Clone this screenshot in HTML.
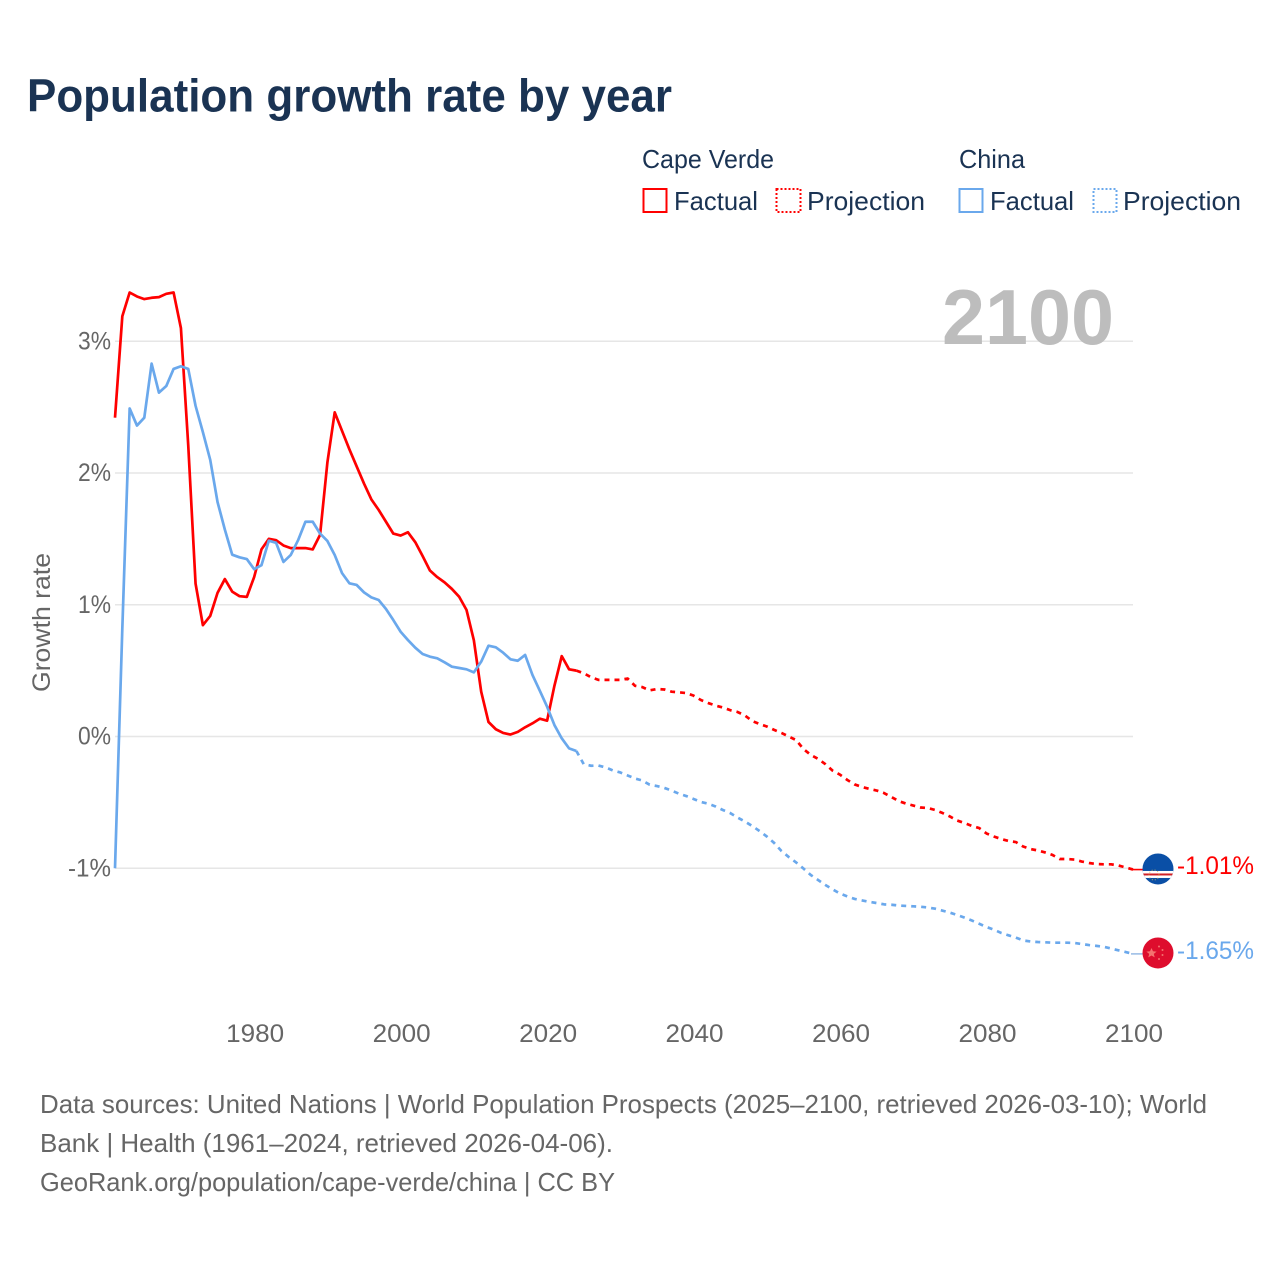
<!DOCTYPE html>
<html lang="en">
<head>
<meta charset="utf-8">
<title>Population growth rate by year</title>
<style>
html,body{margin:0;padding:0;background:#fff;width:1280px;height:1280px;overflow:hidden}
svg{display:block}
text{font-family:"Liberation Sans",sans-serif}
</style>
</head>
<body>
<svg id="chart" xmlns="http://www.w3.org/2000/svg" width="1280" height="1280" viewBox="0 0 1280 1280">
  <rect width="1280" height="1280" fill="#fff"/>
  <text x="27" y="111.5" font-size="46" font-weight="700" fill="#1a3353" textLength="645" lengthAdjust="spacingAndGlyphs">Population growth rate by year</text>

  <g>
    <text x="642" y="168" font-size="26" fill="#1a3353" textLength="132" lengthAdjust="spacingAndGlyphs">Cape Verde</text>
    <text x="959" y="168" font-size="26" fill="#1a3353" textLength="66" lengthAdjust="spacingAndGlyphs">China</text>
    <rect x="643.5" y="189" width="23" height="23" fill="none" stroke="#ff0000" stroke-width="2"/>
    <text x="674" y="210" font-size="26" fill="#1a3353" textLength="84" lengthAdjust="spacingAndGlyphs">Factual</text>
    <rect x="776.5" y="189" width="24" height="23" fill="none" stroke="#ff0000" stroke-width="2" stroke-dasharray="2 2"/>
    <text x="807" y="210" font-size="26" fill="#1a3353" textLength="118" lengthAdjust="spacingAndGlyphs">Projection</text>
    <rect x="959.5" y="189" width="23" height="23" fill="none" stroke="#6aa8ec" stroke-width="2"/>
    <text x="990" y="210" font-size="26" fill="#1a3353" textLength="84" lengthAdjust="spacingAndGlyphs">Factual</text>
    <rect x="1093.5" y="189" width="23" height="23" fill="none" stroke="#6aa8ec" stroke-width="2" stroke-dasharray="2 2"/>
    <text x="1123" y="210" font-size="26" fill="#1a3353" textLength="118" lengthAdjust="spacingAndGlyphs">Projection</text>
  </g>

  <g id="grid"></g>
  <g id="yticks"></g>
  <g id="xticks"></g>

  <text x="942" y="344" font-size="78" font-weight="700" fill="#bdbdbd" textLength="172" lengthAdjust="spacingAndGlyphs">2100</text>
  <text transform="translate(50,692) rotate(-90)" x="0" y="0" font-size="25" fill="#666" textLength="139" lengthAdjust="spacingAndGlyphs">Growth rate</text>

  <g id="series"></g>

  <defs>
    <clipPath id="flag-clip-cv"><circle id="cv-clip-circle" cx="1158" cy="869" r="15.5"/></clipPath>
    <clipPath id="flag-clip-cn"><circle id="cn-clip-circle" cx="1158" cy="953" r="15.5"/></clipPath>
  </defs>
  <g id="flag-cv" clip-path="url(#flag-clip-cv)">
    <rect x="1142" y="853" width="32" height="32" fill="#0a4fa6"/>
    <rect x="1142" y="871" width="32" height="7" fill="#fff"/>
    <rect x="1142" y="873.5" width="32" height="2" fill="#cf2027"/>
    <circle cx="1154" cy="875" r="5" fill="none" stroke="#d8b64a" stroke-width="1" stroke-dasharray="1 2" opacity=".8"/>
  </g>
  <g id="flag-cn" clip-path="url(#flag-clip-cn)">
    <rect x="1142" y="937" width="32" height="32" fill="#de0d2d"/>
    <polygon points="1151.5,948 1153,951.3 1156.6,951.6 1153.8,953.9 1154.7,957.4 1151.5,955.5 1148.3,957.4 1149.2,953.9 1146.4,951.6 1150,951.3" fill="#f4736f"/>
    <circle cx="1159" cy="946.5" r="1" fill="#f4736f"/>
    <circle cx="1162.5" cy="950" r="1" fill="#f4736f"/>
    <circle cx="1162.5" cy="955" r="1" fill="#f4736f"/>
    <circle cx="1159" cy="959" r="1" fill="#f4736f"/>
  </g>
  <text id="label-cv" x="1177" y="874" font-size="25" fill="#ff0000" textLength="77" lengthAdjust="spacingAndGlyphs"></text>
  <text id="label-cn" x="1177" y="959" font-size="25" fill="#6aa8ec" textLength="77" lengthAdjust="spacingAndGlyphs"></text>

  <g font-size="26" fill="#666">
    <text x="40" y="1113" textLength="1167" lengthAdjust="spacingAndGlyphs">Data sources: United Nations | World Population Prospects (2025–2100, retrieved 2026-03-10); World</text>
    <text x="40" y="1152" textLength="573" lengthAdjust="spacingAndGlyphs">Bank | Health (1961–2024, retrieved 2026-04-06).</text>
    <text x="40" y="1191" textLength="575" lengthAdjust="spacingAndGlyphs">GeoRank.org/population/cape-verde/china | CC BY</text>
  </g>
</svg>

<script>
const factualStartYear = 1961;
const projectionStartYear = 2025;
const yTickValues = [3, 2, 1, 0, -1];
const xTickValues = [1980, 2000, 2020, 2040, 2060, 2080, 2100];
const capeVerdeFactual = [2.42,3.19,3.37,3.34,3.32,3.33,3.335,3.36,3.37,3.10,2.21,1.16,0.845,0.915,1.09,1.195,1.10,1.065,1.06,1.21,1.42,1.50,1.49,1.45,1.43,1.43,1.43,1.42,1.53,2.08,2.46,2.32,2.18,2.05,1.92,1.80,1.72,1.63,1.54,1.525,1.55,1.475,1.37,1.26,1.21,1.17,1.12,1.06,0.96,0.73,0.34,0.11,0.055,0.027,0.015,0.035,0.07,0.10,0.135,0.12,0.385,0.61,0.51,0.50];
const capeVerdeProjection = [0.48,0.45,0.43,0.43,0.43,0.43,0.44,0.385,0.375,0.35,0.36,0.357,0.34,0.335,0.33,0.31,0.277,0.254,0.235,0.22,0.2,0.186,0.16,0.118,0.095,0.076,0.05,0.027,0,-0.027,-0.095,-0.14,-0.17,-0.21,-0.26,-0.29,-0.33,-0.364,-0.383,-0.398,-0.41,-0.429,-0.459,-0.49,-0.509,-0.524,-0.539,-0.543,-0.558,-0.581,-0.607,-0.638,-0.657,-0.679,-0.695,-0.736,-0.759,-0.778,-0.793,-0.801,-0.835,-0.854,-0.865,-0.88,-0.899,-0.93,-0.93,-0.934,-0.949,-0.96,-0.968,-0.97,-0.97,-0.979,-0.994,-1.01];
const chinaFactual = [-1.0,0.82,2.49,2.36,2.42,2.83,2.61,2.66,2.79,2.81,2.79,2.51,2.31,2.10,1.78,1.57,1.38,1.36,1.347,1.27,1.30,1.486,1.47,1.325,1.378,1.49,1.63,1.63,1.54,1.484,1.378,1.24,1.163,1.15,1.094,1.056,1.036,0.968,0.884,0.795,0.732,0.674,0.626,0.606,0.593,0.563,0.53,0.52,0.51,0.487,0.568,0.689,0.677,0.636,0.586,0.575,0.619,0.467,0.348,0.226,0.087,-0.014,-0.09,-0.11];
const chinaProjection = [-0.21,-0.222,-0.22,-0.235,-0.258,-0.273,-0.296,-0.319,-0.334,-0.366,-0.376,-0.39,-0.41,-0.434,-0.452,-0.474,-0.497,-0.51,-0.531,-0.558,-0.581,-0.615,-0.645,-0.679,-0.717,-0.759,-0.808,-0.869,-0.915,-0.956,-1.002,-1.051,-1.089,-1.127,-1.161,-1.192,-1.214,-1.233,-1.244,-1.255,-1.264,-1.274,-1.277,-1.283,-1.286,-1.289,-1.292,-1.298,-1.307,-1.322,-1.337,-1.355,-1.375,-1.397,-1.421,-1.446,-1.466,-1.491,-1.509,-1.526,-1.548,-1.556,-1.56,-1.562,-1.565,-1.565,-1.565,-1.567,-1.575,-1.583,-1.589,-1.596,-1.609,-1.623,-1.636,-1.65];

const NS = 'http://www.w3.org/2000/svg';
const RED = '#ff0000';
const BLUE = '#6aa8ec';
function xScale(year) { return 115 + (year - 1961) * (1133 - 115) / 139; }
function yScale(value) { return 736.5 - value * 131.75; }
function svgEl(tag, attrs) {
  const el = document.createElementNS(NS, tag);
  for (const k in attrs) el.setAttribute(k, attrs[k]);
  return el;
}
function pathFrom(startYear, values) {
  return values.map(function (v, i) {
    return (i ? 'L' : 'M') + xScale(startYear + i).toFixed(2) + ' ' + yScale(v).toFixed(2);
  }).join(' ');
}

const gridG = document.getElementById('grid');
const yG = document.getElementById('yticks');
yTickValues.forEach(function (v) {
  const line = svgEl('line', { x1: 115, x2: 1133, y1: yScale(v), y2: yScale(v), stroke: '#e6e6e6', 'stroke-width': 1.4 });
  
  
  gridG.appendChild(line);
  const t = svgEl('text', { x: 111, y: yScale(v) + 8, 'font-size': 25, fill: '#666', 'text-anchor': 'end', textLength: v < 0 ? 43 : 33, lengthAdjust: 'spacingAndGlyphs' });
  t.textContent = v + '%';
  
  
  yG.appendChild(t);
});

const xG = document.getElementById('xticks');
xTickValues.forEach(function (yr) {
  const t = svgEl('text', { x: xScale(yr) + 1, y: 1042, 'font-size': 25, fill: '#666', 'text-anchor': 'middle', textLength: 58, lengthAdjust: 'spacingAndGlyphs' });
  t.textContent = String(yr);
  
  
  xG.appendChild(t);
});

const seriesG = document.getElementById('series');
const lastCv = capeVerdeFactual[capeVerdeFactual.length - 1];
const lastCn = chinaFactual[chinaFactual.length - 1];
const endCv = capeVerdeProjection[capeVerdeProjection.length - 1];
const endCn = chinaProjection[chinaProjection.length - 1];

const cnProjLine = svgEl('path', { d: pathFrom(projectionStartYear - 1, [lastCn].concat(chinaProjection)), fill: 'none', stroke: BLUE, 'stroke-width': 2.7, 'stroke-dasharray': '5 5', 'stroke-linejoin': 'round' });


seriesG.appendChild(cnProjLine);

const cvProjLine = svgEl('path', { d: pathFrom(projectionStartYear - 1, [lastCv].concat(capeVerdeProjection)), fill: 'none', stroke: RED, 'stroke-width': 2.7, 'stroke-dasharray': '5 5', 'stroke-linejoin': 'round' });


seriesG.appendChild(cvProjLine);

const cvLine = svgEl('path', { d: pathFrom(factualStartYear, capeVerdeFactual), fill: 'none', stroke: RED, 'stroke-width': 2.7, 'stroke-linejoin': 'round' });


seriesG.appendChild(cvLine);

const cnLine = svgEl('path', { d: pathFrom(factualStartYear, chinaFactual), fill: 'none', stroke: BLUE, 'stroke-width': 2.7, 'stroke-linejoin': 'round' });


seriesG.appendChild(cnLine);

const cvLead = svgEl('line', { x1: xScale(2100) - 2, x2: 1143, y1: yScale(endCv), y2: yScale(endCv), stroke: RED, 'stroke-width': 1.6 });


seriesG.appendChild(cvLead);

const cnLead = svgEl('line', { x1: xScale(2100) - 2, x2: 1143, y1: yScale(endCn), y2: yScale(endCn), stroke: '#9dbfe6', 'stroke-width': 1.6 });


seriesG.appendChild(cnLead);

const cvDy = yScale(endCv) - 869.6;
const cnDy = yScale(endCn) - 953.9;
document.getElementById('flag-cv').setAttribute('transform', 'translate(0,' + cvDy.toFixed(2) + ')');
document.getElementById('flag-cn').setAttribute('transform', 'translate(0,' + cnDy.toFixed(2) + ')');
const labelCv = document.getElementById('label-cv');
const labelCn = document.getElementById('label-cn');
labelCv.textContent = endCv.toFixed(2) + '%';
labelCn.textContent = endCn.toFixed(2) + '%';
labelCv.setAttribute('y', (yScale(endCv) + 4.5).toFixed(1));
labelCn.setAttribute('y', (yScale(endCn) + 5).toFixed(1));
</script>
</body>
</html>
